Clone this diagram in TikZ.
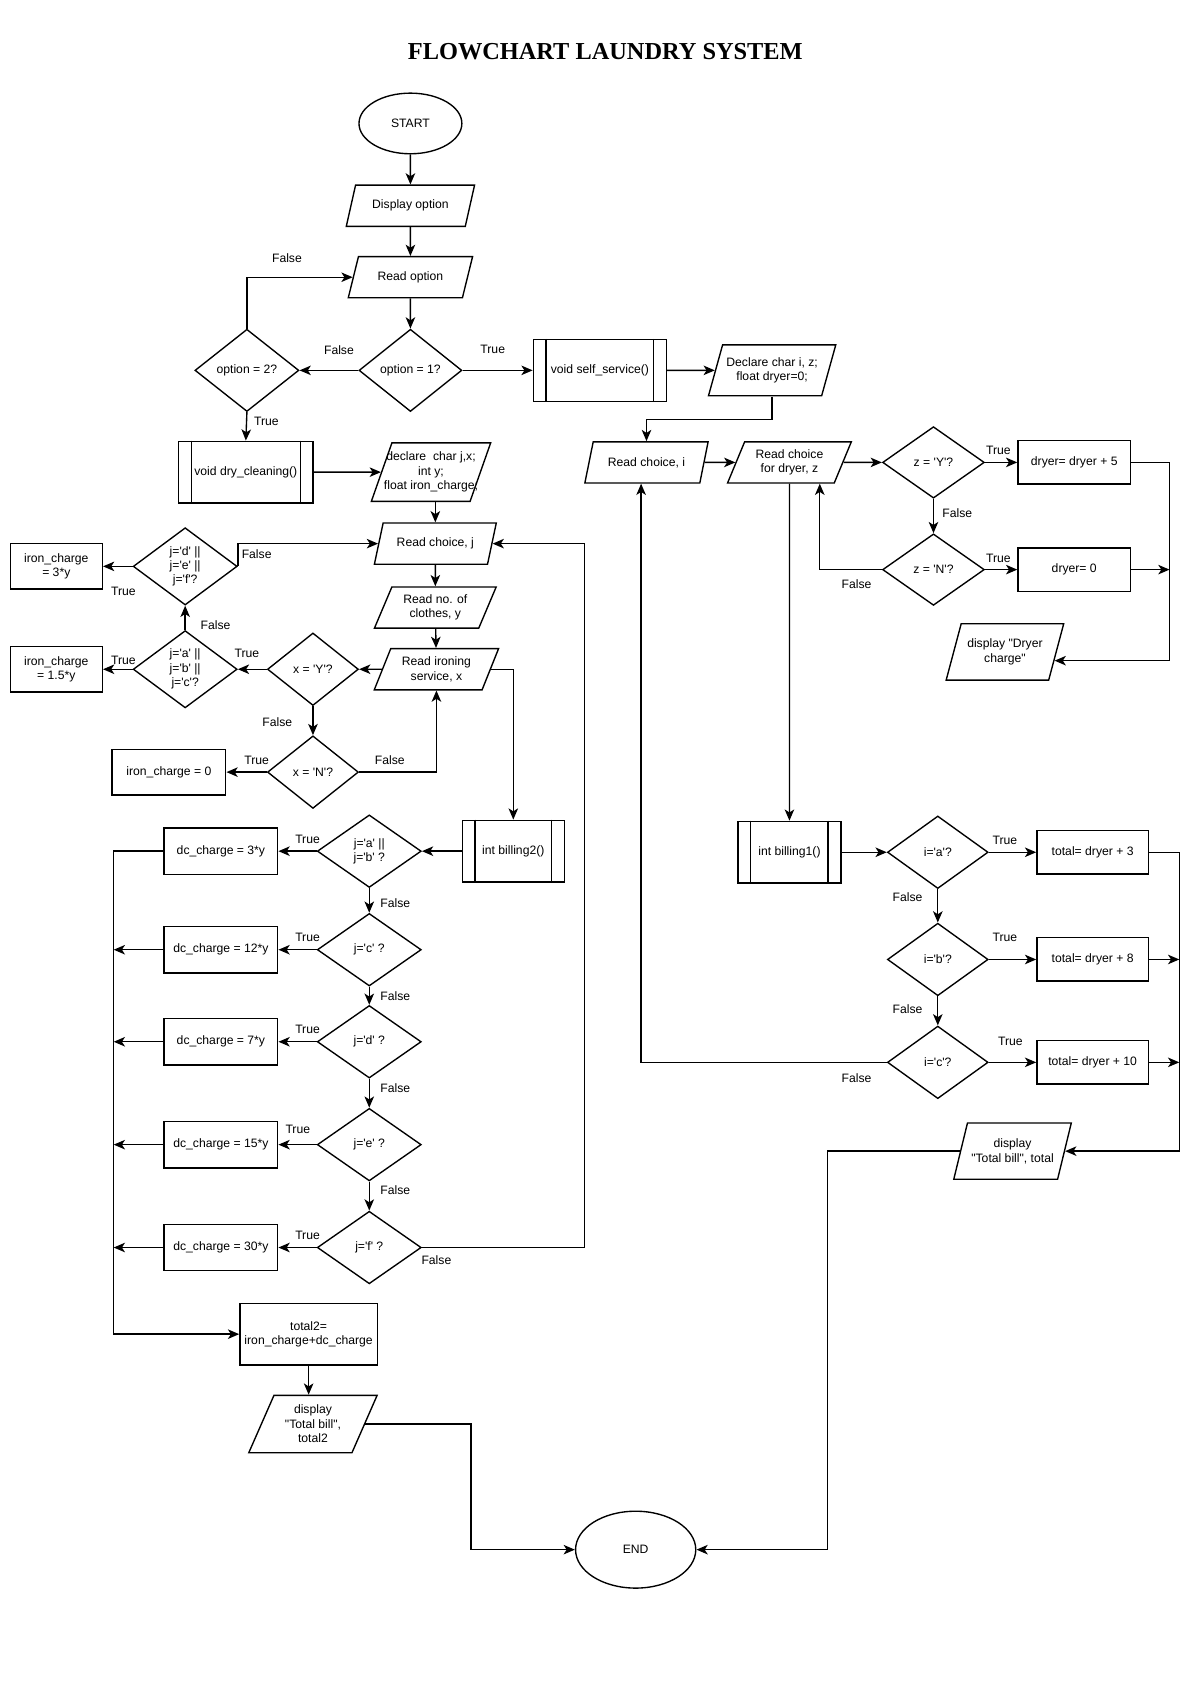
\documentclass[tikz,border=0pt]{standalone}
\usepackage{fontspec}
\setmainfont{Liberation Sans}
\newfontfamily\titlefont{Liberation Serif}
\usetikzlibrary{shapes.geometric, arrows.meta, calc}
\newcommand\qs{\textquotesingle}
\newcommand\qd{\textquotedbl}

\tikzset{
  base/.style={draw, line width=0.9pt, font=\fontsize{8}{9.5}\selectfont, align=center, inner sep=1pt},
  term/.style={base, ellipse},
  io/.style={base, trapezium, trapezium left angle=65, trapezium right angle=115, trapezium stretches=true},
  proc/.style={base, rectangle},
  decision/.style={base, diamond},
  subproc/.style={base, rectangle,
    append after command={
      ([xshift=3.1mm]\tikzlastnode.north west) edge[line width=0.9pt] ([xshift=3.1mm]\tikzlastnode.south west)
      ([xshift=-3.1mm]\tikzlastnode.north east) edge[line width=0.9pt] ([xshift=-3.1mm]\tikzlastnode.south east)}},
  flow/.style={line width=0.9pt, -{Stealth[length=2.6mm, width=2.2mm, inset=0.7mm]}},
  link/.style={line width=0.9pt},
  lbl/.style={font=\fontsize{8}{9.5}\selectfont, inner sep=0pt}
}

\begin{document}
\begin{tikzpicture}[x=0.25mm, y=-0.25mm]
  \useasboundingbox (0,0) rectangle (1108,1568);
  \node (title) at (559,48) {\titlefont\bfseries\fontsize{16}{19}\selectfont FLOWCHART LAUNDRY SYSTEM};

  % main menu
  \node (start) [term, minimum width=23.75mm, minimum height=14mm] at (379,114) {START};
  \node (dispopt) [io, minimum width=29.75mm, minimum height=9.5mm] at (379,190) {Display option};
  \node (readopt) [io, minimum width=28.75mm, minimum height=9.5mm] at (379,256) {Read option};
  \node (opt1) [decision, minimum width=23.75mm, minimum height=19mm] at (379,342) {option = 1?};
  \node (opt2) [decision, minimum width=24mm, minimum height=19mm] at (228,342) {option = 2?};

  % self service branch
  \node (selfsrv) [subproc, minimum width=30.75mm, minimum height=14.25mm] at (554,342) {void self\_service()};
  \node (declIZ) [io, minimum width=29.5mm, minimum height=11.75mm] at (713,342) {Declare char i, z;\\float dryer=0;};
  \node (readI) [io, minimum width=28.5mm, minimum height=9.5mm] at (597,427) {Read choice, i};
  \node (readZ) [io, minimum width=28.75mm, minimum height=9.5mm] at (729,427) {Read choice\\for dryer, z};
  \node (zY) [decision, minimum width=23.5mm, minimum height=16.5mm] at (862,427) {z = \qs Y\qs?};
  \node (zN) [decision, minimum width=23.5mm, minimum height=16.5mm] at (862,526) {z = \qs N\qs?};
  \node (dry5) [proc, minimum width=26mm, minimum height=10mm] at (992,427) {dryer= dryer + 5};
  \node (dry0) [proc, minimum width=26mm, minimum height=10mm] at (992,526) {dryer= 0};
  \node (dispDry) [io, minimum width=27.25mm, minimum height=13mm] at (928,602) {display \qd Dryer\\charge\qd};
  \coordinate (dryjoin) at (1080,602);

  \node (bill1) [subproc, minimum width=23.75mm, minimum height=14.25mm] at (729,787) {int billing1()};
  \node (iA) [decision, minimum width=23.25mm, minimum height=16.75mm] at (866,787) {i=\qs a\qs?};
  \node (iB) [decision, minimum width=23.25mm, minimum height=16.75mm] at (866,886) {i=\qs b\qs?};
  \node (iC) [decision, minimum width=23.25mm, minimum height=16.75mm] at (866,981) {i=\qs c\qs?};
  \node (tot3) [proc, minimum width=25.75mm, minimum height=10mm] at (1009,787) {total= dryer + 3};
  \node (tot8) [proc, minimum width=25.75mm, minimum height=10mm] at (1009,886) {total= dryer + 8};
  \node (tot10) [proc, minimum width=25.75mm, minimum height=10mm] at (1009,981) {total= dryer + 10};
  \node (dispTot) [io, minimum width=27.25mm, minimum height=13mm] at (935,1063) {display\\\qd Total bill\qd, total};
  \coordinate (totjoin) at (1089,787);

  % dry cleaning branch
  \node (dryCl) [subproc, minimum width=31mm, minimum height=14.25mm] at (227,436) {void dry\_cleaning()};
  \node (declJ) [io, minimum width=27.75mm, minimum height=13.5mm, inner xsep=-2mm] at (398,436) {declare~ char j,x;\\int y;\\float iron\_charge;};
  \node (readJ) [io, minimum width=28.25mm, minimum height=9.5mm] at (402,502) {Read choice, j};
  \node (readY) [io, minimum width=28.25mm, minimum height=9.5mm] at (402,561) {Read no. of\\clothes, y};
  \node (readX) [io, minimum width=28.75mm, minimum height=9.5mm] at (403,618) {Read ironing\\service, x};
  \node (xY) [decision, minimum width=21mm, minimum height=16.75mm] at (289,618) {x = \qs Y\qs?};
  \node (xN) [decision, minimum width=21mm, minimum height=16.75mm] at (289,713) {x = \qs N\qs?};
  \node (jABC) [decision, minimum width=24mm, minimum height=16.75mm] at (171,618) {j=\qs a\qs{} ||\\j=\qs b\qs{} ||\\j=\qs c\qs?};
  \node (jDEF) [decision, minimum width=24mm, minimum height=16.75mm] at (171,523) {j=\qs d\qs{} ||\\j=\qs e\qs{} ||\\j=\qs f\qs?};
  \node (iron3) [proc, minimum width=21.25mm, minimum height=10.5mm] at (52,523) {iron\_charge\\= 3*y};
  \node (iron15) [proc, minimum width=21.25mm, minimum height=10.5mm] at (52,618) {iron\_charge\\= 1.5*y};
  \node (iron0) [proc, minimum width=26.25mm, minimum height=10.5mm] at (156,713) {iron\_charge = 0};

  \node (bill2) [subproc, minimum width=23.5mm, minimum height=14.25mm] at (474,786) {int billing2()};
  \node (jAB) [decision, minimum width=24mm, minimum height=16.75mm] at (341,786) {j=\qs a\qs{} ||\\j=\qs b\qs{} ?};
  \node (jC) [decision, minimum width=24mm, minimum height=16.75mm] at (341,877) {j=\qs c\qs{} ?};
  \node (jD) [decision, minimum width=24mm, minimum height=16.75mm] at (341,962) {j=\qs d\qs{} ?};
  \node (jE) [decision, minimum width=24mm, minimum height=16.75mm] at (341,1057) {j=\qs e\qs{} ?};
  \node (jF) [decision, minimum width=24mm, minimum height=16.75mm] at (341,1152) {j=\qs f\qs{} ?};
  \node (dc3) [proc, minimum width=26.25mm, minimum height=10.75mm] at (204,786) {dc\_charge = 3*y};
  \node (dc12) [proc, minimum width=26.25mm, minimum height=10.75mm] at (204,877) {dc\_charge = 12*y};
  \node (dc7) [proc, minimum width=26.25mm, minimum height=10.75mm] at (204,962) {dc\_charge = 7*y};
  \node (dc15) [proc, minimum width=26.25mm, minimum height=10.75mm] at (204,1057) {dc\_charge = 15*y};
  \node (dc30) [proc, minimum width=26.25mm, minimum height=10.75mm] at (204,1152) {dc\_charge = 30*y};
  \coordinate (bus) at (105,786);
  \coordinate (loopR) at (540,502);
  \node (tot2) [proc, minimum width=31.75mm, minimum height=14.25mm] at (285,1232) {total2=\\iron\_charge+dc\_charge};
  \node (dispT2) [io, minimum width=29.75mm, minimum height=13.25mm] at (289,1315) {display\\\qd Total bill\qd,\\total2};

  \node (end) [term, minimum width=27.75mm, minimum height=17.75mm] at (587,1431) {END};

  % connectors, menu
  \draw [flow] (start) -- (dispopt);
  \draw [flow] (dispopt) -- (readopt);
  \draw [flow] (readopt) -- (opt1);
  \draw [flow] (opt1.west) -- (opt2.east);
  \draw [flow] (opt2.north) |- (readopt.west);
  \draw [flow] (opt1.east) -- (selfsrv.west);
  \draw [flow] (opt2.south) -- (dryCl.north);

  % connectors, self service
  \draw [flow] (selfsrv.east) -- (declIZ.west);
  \draw [flow] (declIZ.south) -- ++(0,21) -| (readI.north);
  \draw [flow] (readI.east) -- (readZ.west);
  \draw [flow] (readZ.east) -- (zY.west);
  \draw [flow] (zY.east) -- (dry5.west);
  \draw [flow] (zY.south) -- (zN.north);
  \draw [flow] (zN.east) -- (dry0.west);
  \draw [flow] (zN.west) -| ([xshift=7mm]readZ.south);
  \draw [flow] (dry5.east) -| (dryjoin |- dispDry.-10) -- (dispDry.-10);
  \draw [flow] (dry0.east) -- (dry0.east -| dryjoin);
  \draw [flow] (readZ.south) -- (bill1.north);
  \draw [flow] (bill1.east) -- (iA.west);
  \draw [flow] (iA.east) -- (tot3.west);
  \draw [flow] (iA.south) -- (iB.north);
  \draw [flow] (iB.east) -- (tot8.west);
  \draw [flow] (iB.south) -- (iC.north);
  \draw [flow] (iC.east) -- (tot10.west);
  \draw [flow] (iC.west) -| ([xshift=-1.25mm]readI.south);
  \draw [flow] (tot3.east) -| (totjoin |- dispTot.east) -- (dispTot.east);
  \draw [flow] (tot8.east) -- (tot8.east -| totjoin);
  \draw [flow] (tot10.east) -- (tot10.east -| totjoin);
  \draw [flow] (dispTot.west) -| ($(end.east)+(121,0)$) -- (end.east);

  % connectors, dry cleaning
  \draw [flow] (dryCl.east) -- (declJ.west);
  \draw [flow] (declJ.south -| readJ.north) -- (readJ.north);
  \draw [flow] (readJ) -- (readY);
  \draw [flow] (readY) -- (readX);
  \draw [flow] (readX.west) -- (xY.east);
  \draw [flow] (xY.west) -- (jABC.east);
  \draw [flow] (jABC.west) -- (iron15.east);
  \draw [flow] (jABC.north) -- (jDEF.south);
  \draw [flow] (jDEF.west) -- (iron3.east);
  \draw [flow] (jDEF.east) |- (readJ.west);
  \draw [flow] (xY.south) -- (xN.north);
  \draw [flow] (xN.west) -- (iron0.east);
  \draw [flow] (xN.east) -| (readX.south);
  \draw [flow] (readX.east) -| (bill2.north);
  \draw [flow] (bill2.west) -- (jAB.east);
  \draw [flow] (jAB.west) -- (dc3.east);
  \draw [flow] (jAB.south) -- (jC.north);
  \draw [flow] (jC.west) -- (dc12.east);
  \draw [flow] (jC.south) -- (jD.north);
  \draw [flow] (jD.west) -- (dc7.east);
  \draw [flow] (jD.south) -- (jE.north);
  \draw [flow] (jE.west) -- (dc15.east);
  \draw [flow] (jE.south) -- (jF.north);
  \draw [flow] (jF.west) -- (dc30.east);
  \draw [flow] (jF.east) -- (jF.east -| loopR) |- (readJ.east);
  \draw [flow] (dc3.west) -| (bus |- tot2.west) -- (tot2.west);
  \draw [flow] (dc12.west) -- (dc12.west -| bus);
  \draw [flow] (dc7.west) -- (dc7.west -| bus);
  \draw [flow] (dc15.west) -- (dc15.west -| bus);
  \draw [flow] (dc30.west) -- (dc30.west -| bus);
  \draw [flow] (tot2.south) -- (tot2.south |- dispT2.north);
  \draw [flow] (dispT2.east) -| ($(end.west)+(-96,0)$) -- (end.west);

  % branch labels
  \node (fOpt2) [lbl] at (265,238) {False};
  \node (fOpt1) [lbl] at (313,323) {False};
  \node (tOpt1) [lbl] at (455,323) {True};
  \node (tOpt2) [lbl] at (246,389) {True};
  \node (tZY) [lbl] at (922,416) {True};
  \node (fZY) [lbl] at (884,474) {False};
  \node (tZN) [lbl] at (922,516) {True};
  \node (fZN) [lbl] at (791,539) {False};
  \node (tIA) [lbl] at (928,776) {True};
  \node (fIA) [lbl] at (838,828) {False};
  \node (tIB) [lbl] at (928,866) {True};
  \node (fIB) [lbl] at (838,932) {False};
  \node (tIC) [lbl] at (933,962) {True};
  \node (fIC) [lbl] at (791,996) {False};
  \node (fJDEF) [lbl] at (237,512) {False};
  \node (tJDEF) [lbl] at (114,546) {True};
  \node (fJABC) [lbl] at (199,577) {False};
  \node (tXY) [lbl] at (228,603) {True};
  \node (tJABC) [lbl] at (114,610) {True};
  \node (fXY) [lbl] at (256,667) {False};
  \node (tXN) [lbl] at (237,702) {True};
  \node (fXN) [lbl] at (360,702) {False};
  \node (tJAB) [lbl] at (284,775) {True};
  \node (fJAB) [lbl] at (365,834) {False};
  \node (tJC) [lbl] at (284,866) {True};
  \node (fJC) [lbl] at (365,920) {False};
  \node (tJD) [lbl] at (284,951) {True};
  \node (fJD) [lbl] at (365,1005) {False};
  \node (tJE) [lbl] at (275,1043) {True};
  \node (fJE) [lbl] at (365,1099) {False};
  \node (tJF) [lbl] at (284,1141) {True};
  \node (fJF) [lbl] at (403,1164) {False};
\end{tikzpicture}
\end{document}
